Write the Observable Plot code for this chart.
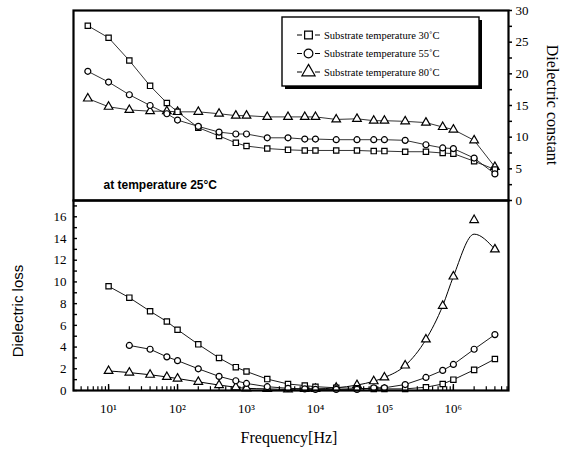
<!DOCTYPE html>
<html><head><meta charset="utf-8">
<script src="https://cdn.jsdelivr.net/npm/d3@7"></script>
<script src="https://cdn.jsdelivr.net/npm/@observablehq/plot@0.6"></script>
<style>
body{margin:0;background:#fff;}
#wrap{position:relative;width:567px;height:457px;overflow:hidden;background:#fff;}
#wrap svg{position:absolute;left:0;}
.lab{position:absolute;white-space:nowrap;color:#000;transform-origin:center center;}
</style></head><body>
<div id="wrap"></div>
<script>
// ---- data ----
const freq = [5,10,20,40,70,100,200,400,700,1e3,2e3,4e3,7e3,1e4,2e4,4e4,7e4,1e5,2e5,4e5,7e5,1e6,2e6,4e6];
const seriesNames = ["Substrate temperature 30˚C","Substrate temperature 55˚C","Substrate temperature 80˚C"];
const constant30 = [27.6,25.7,22.1,18.1,15.4,14.0,11.5,10.2,9.1,8.6,8.2,8.0,7.9,7.9,7.9,7.9,7.8,7.8,7.7,7.7,7.5,7.4,6.2,4.9];
const constant55 = [20.4,18.7,16.7,15.0,13.7,12.7,11.7,10.8,10.5,10.5,9.9,9.9,9.7,9.7,9.6,9.6,9.6,9.6,9.5,8.8,8.3,8.2,6.7,4.2];
const constant80 = [16.1,14.8,14.3,14.1,14.1,14.0,14.0,13.7,13.4,13.4,13.2,13.2,13.2,13.2,12.8,12.9,12.6,12.6,12.5,12.3,11.6,11.2,9.5,5.3];
const loss30 = [null,9.6,8.55,7.3,6.35,5.6,4.25,3.0,2.15,1.75,1.05,0.6,0.45,0.35,0.25,0.2,0.15,0.15,0.15,0.3,0.6,1.0,1.9,2.9];
const loss55 = [null,null,4.15,3.8,3.1,2.75,2.0,1.3,0.9,0.65,0.35,0.2,0.15,0.1,0.1,0.1,0.25,0.25,0.55,1.2,1.85,2.4,3.8,5.15];
const loss80 = [null,1.8,1.65,1.45,1.25,1.1,0.8,0.5,0.3,0.2,0.15,0.1,0.15,0.15,0.25,0.5,0.85,1.2,2.3,4.7,7.8,10.5,15.7,13.0];
const loss80Fit = [null,1.8,1.65,1.45,1.25,1.1,0.8,0.5,0.3,0.2,0.15,0.1,0.15,0.15,0.25,0.5,0.85,1.2,2.3,4.7,7.8,10.5,14.4,13.0];
const constantTicks = [0,5,10,15,20,25,30];
const lossTicks = [0,2,4,6,8,10,12,14,16];
const decadeTicks = [1e1,1e2,1e3,1e4,1e5,1e6];
const decadeLabels = ["10¹","10²","10³","10⁴","10⁵","10⁶"];
const annotation = "at temperature 25°C";
const xTitle = "Frequency[Hz]";
const yTitleTop = "Dielectric constant";
const yTitleBottom = "Dielectric loss";

// ---- build rows ----
function rows(arrs){
  const out=[];
  arrs.forEach((a,i)=>a.forEach((v,j)=>{ if(v!=null) out.push({f:freq[j], v, s:seriesNames[i]}); }));
  return out;
}
const topRows = rows([constant30,constant55,constant80]);
const lossRows = rows([loss30,loss55,loss80]);
const lossLineRows = rows([loss30,loss55,[]]);
const fitRows = loss80Fit.map((v,j)=>({f:freq[j],v})).filter(d=>d.v!=null);

const xDomain=[3.1,6.3e6];
const pxPerDecade = 435/(Math.log10(xDomain[1])-Math.log10(xDomain[0]));
const xIn = (px)=> xDomain[0]*Math.pow(10,px/pxPerDecade);
const symbolOpt = {domain:seriesNames, range:["square","circle","triangle"]};
const serif = "Liberation Serif, Times New Roman, serif";
const wrap = document.getElementById("wrap");

const minorX=[];
for(let e=0;e<=6;e++) for(let m=1;m<=9;m++){const v=m*Math.pow(10,e); if(v>xDomain[0]&&v<xDomain[1]) minorX.push(v);}

// ---- top panel ----
const topPlot = Plot.plot({
  width:567, height:210, marginTop:10, marginBottom:10, marginLeft:73, marginRight:59,
  style:{background:"transparent", fontFamily:serif, color:"black"},
  x:{type:"log", domain:xDomain, axis:null},
  y:{domain:[0,30], axis:null},
  symbol:symbolOpt,
  marks:[
    Plot.axisY({anchor:"right", ticks:d3.range(0,30.01,2.5), tickSize:3, tickFormat:()=>"", strokeWidth:1.5, label:null}),
    Plot.axisY({anchor:"right", ticks:constantTicks, tickSize:0, tickPadding:7, fontSize:13, fontFamily:serif, label:null}),
    Plot.line(topRows,{x:"f", y:"v", z:"s", stroke:"black", strokeWidth:0.8}),
    Plot.dot(topRows,{x:"f", y:"v", symbol:"s", r:d=>d.s===seriesNames[2]?5:4.4, fill:"white", stroke:"black", strokeWidth:1.2}),
    Plot.text([annotation],{frameAnchor:"bottom-left", textAnchor:"start", lineAnchor:"middle", dx:30, dy:-15, fontSize:12, fontWeight:"bold", fontFamily:"Liberation Sans, Arial, sans-serif"}),
    Plot.frame({stroke:"black", strokeWidth:2.2})
  ]
});
topPlot.style.top="0px";
wrap.appendChild(topPlot);

// legend inside top panel
{
  const svg = d3.select(topPlot);
  const g = svg.append("g").attr("text-anchor","start");
  const bx=282, by=17, bw=197, bh=69;
  g.append("rect").attr("x",bx+3).attr("y",by+3).attr("width",bw).attr("height",bh).attr("fill","black").attr("stroke","none");
  g.append("rect").attr("x",bx).attr("y",by).attr("width",bw).attr("height",bh).attr("fill","white").attr("stroke","black").attr("stroke-width",1.4);
  const syms=[d3.symbolSquare,d3.symbolCircle,d3.symbolTriangle];
  seriesNames.forEach((name,i)=>{
    const y=by+18+i*18.5;
    g.append("line").attr("x1",297).attr("x2",302).attr("y1",y).attr("y2",y).attr("stroke","black").attr("stroke-width",1);
    g.append("line").attr("x1",315).attr("x2",320).attr("y1",y).attr("y2",y).attr("stroke","black").attr("stroke-width",1);
    g.append("path").attr("d",d3.symbol(syms[i], i===2?75:60)()).attr("transform",`translate(308.5,${y})`).attr("fill","white").attr("stroke","black").attr("stroke-width",1.2);
    g.append("text").attr("x",324).attr("y",y).attr("dy","0.35em").attr("text-anchor","start").attr("font-size",10.5).attr("font-family",serif).attr("fill","black").text(name);
  });
}

// ---- bottom panel ----
const botPlot = Plot.plot({
  width:567, height:259, marginTop:2, marginBottom:67, marginLeft:73, marginRight:59,
  style:{background:"transparent", fontFamily:serif, color:"black"},
  x:{type:"log", domain:xDomain, axis:null},
  y:{domain:[0,17.5], axis:null},
  symbol:symbolOpt,
  marks:[
    Plot.ruleX(minorX,{x:d=>d, y1:0, y2:0.35, stroke:"black", strokeWidth:1.2}),
    Plot.ruleX(decadeTicks,{x:d=>d, y1:0, y2:0.55, stroke:"black", strokeWidth:1.4}),
    Plot.ruleY(d3.range(0,17.01,1),{y:d=>d, x1:xDomain[0], x2:xIn(4), stroke:"black", strokeWidth:1.4}),
    Plot.axisY({anchor:"left", ticks:lossTicks, tickSize:0, tickPadding:7, fontSize:13, fontFamily:serif, label:null}),
    Plot.axisX({anchor:"bottom", ticks:decadeTicks, tickSize:0, tickPadding:13, fontSize:13, fontFamily:serif, tickFormat:(d)=>decadeLabels[decadeTicks.indexOf(d)], label:null}),
    Plot.line(lossLineRows,{x:"f", y:"v", z:"s", stroke:"black", strokeWidth:0.9}),
    Plot.line(fitRows,{x:"f", y:"v", stroke:"black", strokeWidth:1, curve:"monotone-x"}),
    Plot.dot(lossRows,{x:"f", y:"v", symbol:"s", r:d=>d.s===seriesNames[2]?5:4.4, fill:"white", stroke:"black", strokeWidth:1.2}),
    Plot.frame({stroke:"black", strokeWidth:2.2})
  ]
});
botPlot.style.top="198px";
wrap.appendChild(botPlot);

// ---- titles ----
function addLabel(text, cx, cy, rot, font, size){
  const d=document.createElement("div");
  d.className="lab"; d.textContent=text;
  d.style.fontFamily=font; d.style.fontSize=size+"px";
  d.style.left=cx+"px"; d.style.top=cy+"px";
  d.style.transform=`translate(-50%,-50%) rotate(${rot}deg)`;
  wrap.appendChild(d);
}
addLabel(yTitleTop, 552, 105, 90, serif, 16);
addLabel(yTitleBottom, 17, 311, -90, "Liberation Sans, Arial, sans-serif", 15);
addLabel(xTitle, 289, 438, 0, serif, 16);
</script>
</body></html>
